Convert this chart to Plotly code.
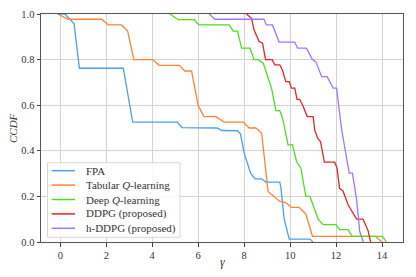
import plotly.graph_objects as go

# FPA
fpa_x = [-0.12, 0.2, 0.6, 0.83, 2.74, 3.15, 5.09, 5.29, 6.83, 7.02, 7.70, 7.84, 8.0, 8.28, 8.47, 8.76, 8.94, 9.55, 9.60, 9.74, 9.96, 10.86, 11.0]
fpa_y = [1.0, 1.0, 0.957, 0.762, 0.762, 0.526, 0.526, 0.502, 0.50, 0.489, 0.488, 0.474, 0.39, 0.302, 0.277, 0.277, 0.263, 0.263, 0.237, 0.10, 0.013, 0.013, 0.0]

# Tabular Q-learning
tab_x = [-0.12, 0.35, 1.80, 2.09, 2.67, 2.93, 3.20, 4.02, 4.30, 5.17, 5.42, 5.71, 6.0, 6.25, 6.77, 7.13, 7.96, 8.22, 8.51, 8.76, 9.04, 9.55, 9.81, 10.06, 10.39, 10.68, 10.97, 13.73, 13.97]
tab_y = [1.0, 0.977, 0.977, 0.952, 0.952, 0.925, 0.80, 0.80, 0.775, 0.775, 0.75, 0.75, 0.598, 0.55, 0.55, 0.526, 0.526, 0.50, 0.50, 0.477, 0.222, 0.178, 0.173, 0.152, 0.152, 0.123, 0.025, 0.025, 0.0]

# Deep Q-learning
dq_x = [4.77, 5.13, 5.83, 6.03, 7.35, 7.52, 7.71, 7.89, 8.25, 8.43, 8.61, 8.83, 9.19, 9.38, 9.55, 9.67, 9.91, 10.10, 10.28, 10.47, 10.68, 10.86, 11.22, 11.43, 11.99, 12.16, 12.52, 12.70, 14.02, 14.19]
dq_y = [1.0, 0.975, 0.975, 0.952, 0.952, 0.925, 0.925, 0.85, 0.85, 0.80, 0.80, 0.784, 0.675, 0.576, 0.576, 0.543, 0.426, 0.426, 0.353, 0.324, 0.20, 0.20, 0.10, 0.076, 0.076, 0.054, 0.054, 0.025, 0.025, 0.0]

# DDPG (proposed)
ddpg_x = [8.10, 8.32, 8.43, 8.65, 8.80, 8.93, 9.22, 9.33, 9.55, 9.67, 9.81, 9.96, 10.06, 10.20, 10.30, 10.42, 10.57, 10.74, 11.0, 11.07, 11.20, 11.32, 11.49, 11.94, 12.04, 12.15, 12.30, 12.52, 12.89, 13.17, 13.39, 13.50]
ddpg_y = [1.0, 0.981, 0.93, 0.879, 0.872, 0.80, 0.80, 0.777, 0.777, 0.752, 0.703, 0.703, 0.675, 0.675, 0.626, 0.625, 0.594, 0.55, 0.55, 0.49, 0.454, 0.441, 0.35, 0.35, 0.324, 0.235, 0.224, 0.163, 0.10, 0.10, 0.05, 0.0]

# h-DDPG (proposed)
hddpg_x = [6.48, 6.73, 8.86, 8.97, 9.23, 9.52, 10.20, 10.32, 10.71, 10.97, 11.12, 11.37, 11.61, 11.87, 12.02, 12.23, 12.57, 12.71, 12.89, 13.03, 13.18]
hddpg_y = [1.0, 0.977, 0.977, 0.952, 0.952, 0.877, 0.877, 0.85, 0.85, 0.80, 0.79, 0.725, 0.725, 0.675, 0.675, 0.50, 0.302, 0.302, 0.187, 0.045, 0.0]

names = ["FPA", "Tabular <i>Q</i>-learning", "Deep <i>Q</i>-learning", "DDPG (proposed)", "h-DDPG (proposed)"]
colors = ["#4a9ff0", "#ff8236", "#4fdc22", "#e32424", "#a275ff"]
series = [(fpa_x, fpa_y), (tab_x, tab_y), (dq_x, dq_y), (ddpg_x, ddpg_y), (hddpg_x, hddpg_y)]

x_ticks = [0, 2, 4, 6, 8, 10, 12, 14]
y_ticks = [0.0, 0.2, 0.4, 0.6, 0.8, 1.0]

# page body has an 8px default margin; size the figure so the plot area lands
# at window pixels x 41..403, y 14..242
OFF = 8
W, H = 408, 269
L, R, T, B = 33, 13, 6, 35
pw, ph = W - L - R, H - T - B


def px(xw):
    return (xw - OFF - L) / pw


def py(yw):
    return (H - B - (yw - OFF)) / ph


fig = go.Figure()
for (xs, ys), n, c in zip(series, names, colors):
    fig.add_trace(go.Scatter(x=xs, y=ys, mode="lines", name=n, showlegend=False,
                             line=dict(color=c, width=1.3)))

FONT = "Liberation Serif"
TXT = "#333333"

# manual legend (matplotlib-style compact box)
shapes = [dict(type="rect", xref="paper", yref="paper",
               x0=px(47.5), x1=px(180), y0=py(237.3), y1=py(162.7),
               line=dict(color="#d9d9d9", width=1), fillcolor="rgba(255,255,255,0.85)",
               layer="above")]
annotations = []
row_y = [170.7, 185.1, 199.5, 213.9, 228.3]
for n, c, ry in zip(names, colors, row_y):
    shapes.append(dict(type="line", xref="paper", yref="paper",
                       x0=px(51.7), x1=px(75), y0=py(ry), y1=py(ry),
                       line=dict(color=c, width=1.5), layer="above"))
    annotations.append(dict(text=n, xref="paper", yref="paper", x=px(83.5), y=py(ry),
                            xanchor="left", yanchor="middle", showarrow=False,
                            font=dict(family=FONT, size=11, color=TXT)))

annotations.append(dict(text="<i>γ</i>", xref="paper", yref="paper", x=0.5, y=py(262.5),
                        xanchor="center", yanchor="middle", showarrow=False,
                        font=dict(family=FONT, size=12, color=TXT)))
annotations.append(dict(text="<i>CCDF</i>", xref="paper", yref="paper", x=px(13), y=0.5,
                        xanchor="center", yanchor="middle", showarrow=False, textangle=-90,
                        font=dict(family=FONT, size=11, color=TXT)))

fig.update_layout(
    width=W, height=H,
    margin=dict(l=L, r=R, t=T, b=B),
    paper_bgcolor="white", plot_bgcolor="white",
    font=dict(family=FONT, size=10.5, color=TXT),
    showlegend=False,
    shapes=shapes, annotations=annotations,
)
fig.update_xaxes(range=[-0.84, 14.91], tickvals=x_ticks, ticks="outside", ticklen=3.5,
                 tickcolor="#444", showgrid=True, gridcolor="#d3d3d3", gridwidth=1,
                 showline=True, linecolor="#555", linewidth=1, mirror=True, zeroline=False,
                 automargin=False, tickfont=dict(family=FONT, size=10.5, color=TXT))
fig.update_yaxes(range=[0, 1], tickvals=y_ticks, tickformat=".1f", ticks="outside", ticklen=3.5,
                 tickcolor="#444", showgrid=True, gridcolor="#d3d3d3", gridwidth=1,
                 showline=True, linecolor="#555", linewidth=1, mirror=True, zeroline=False,
                 automargin=False, tickfont=dict(family=FONT, size=10.5, color=TXT))

fig.write_html("out.html")
